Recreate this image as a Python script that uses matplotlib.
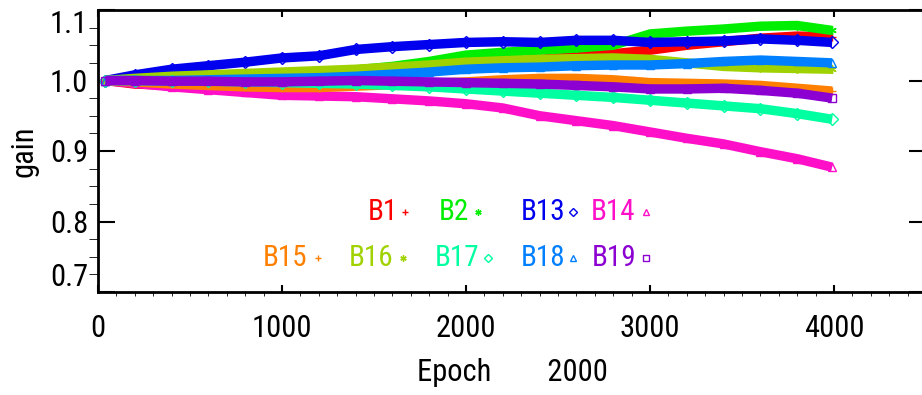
import matplotlib.pyplot as plt
from matplotlib.ticker import MultipleLocator

plt.rcParams['font.family'] = ['Roboto Condensed', 'DejaVu Sans']

# epochs and gain of each band
epoch = [40, 200, 400, 600, 800, 1000, 1200, 1400, 1600, 1800, 2000,
         2200, 2400, 2600, 2800, 3000, 3200, 3400, 3600, 3800, 3990]

b1 = [1.000, 0.995, 0.993, 0.994, 0.996, 0.998, 1.000, 1.005, 1.010, 1.015, 1.020,
      1.025, 1.030, 1.034, 1.038, 1.043, 1.050, 1.055, 1.060, 1.063, 1.062]
b2 = [1.000, 1.002, 1.004, 1.006, 1.008, 1.010, 1.012, 1.015, 1.020, 1.027, 1.036,
      1.040, 1.043, 1.046, 1.050, 1.066, 1.070, 1.073, 1.077, 1.078, 1.071]
b13 = [1.000, 1.008, 1.016, 1.021, 1.026, 1.032, 1.035, 1.044, 1.048, 1.051, 1.054,
       1.055, 1.054, 1.057, 1.057, 1.054, 1.055, 1.056, 1.059, 1.057, 1.054]
b14 = [1.000, 0.996, 0.991, 0.987, 0.983, 0.979, 0.978, 0.977, 0.974, 0.971, 0.967,
       0.961, 0.950, 0.943, 0.936, 0.927, 0.918, 0.910, 0.899, 0.889, 0.877]
b15 = [1.000, 0.998, 0.995, 0.993, 0.991, 0.990, 0.990, 0.992, 0.994, 0.996, 0.998,
       1.001, 1.003, 1.003, 1.001, 0.997, 0.996, 0.995, 0.993, 0.989, 0.985]
b16 = [1.000, 1.003, 1.006, 1.008, 1.010, 1.012, 1.014, 1.016, 1.019, 1.022, 1.026,
       1.028, 1.030, 1.031, 1.032, 1.030, 1.025, 1.020, 1.018, 1.017, 1.016]
b17 = [1.000, 1.000, 0.999, 0.999, 0.998, 0.997, 0.996, 0.995, 0.993, 0.991, 0.988,
       0.985, 0.982, 0.979, 0.976, 0.972, 0.968, 0.964, 0.960, 0.953, 0.945]
b18 = [1.000, 1.000, 1.000, 1.001, 1.002, 1.003, 1.004, 1.006, 1.009, 1.012, 1.016,
       1.018, 1.019, 1.021, 1.022, 1.022, 1.024, 1.027, 1.029, 1.027, 1.025]
b19 = [1.000, 1.000, 0.999, 0.999, 0.998, 0.998, 0.999, 1.000, 0.999, 0.998, 0.997,
       0.996, 0.995, 0.993, 0.991, 0.988, 0.988, 0.989, 0.986, 0.982, 0.975]

names = ['B1', 'B2', 'B13', 'B14', 'B15', 'B16', 'B17', 'B18', 'B19']
series = [b1, b2, b13, b14, b15, b16, b17, b18, b19]
colors = ['#ff0000', '#00ee00', '#0000ee', '#ff10c8', '#ff8000',
          '#a0d200', '#00ffa0', '#0080ff', '#8c00d2']
asterisk = (6, 2, 0)
markers = ['+', asterisk, 'D', '^', '+', asterisk, 'D', '^', 's']

# legend layout in axes fraction: (text x, marker x, y)
leg_pos = [(0.344, 0.371, 0.284), (0.430, 0.459, 0.284), (0.537, 0.574, 0.284),
           (0.622, 0.662, 0.284), (0.226, 0.266, 0.121), (0.330, 0.368, 0.121),
           (0.434, 0.471, 0.121), (0.537, 0.574, 0.121), (0.623, 0.662, 0.121)]

fig = plt.figure(figsize=(9.22, 3.95), dpi=100)
ax = fig.add_axes([98 / 922, 103 / 395, 828 / 922, 282 / 395])

for vals, c, m in zip(series, colors, markers):
    ax.plot(epoch, vals, color=c, lw=6.8, solid_capstyle='butt', zorder=2)
    ax.plot(epoch, vals, ls='none', marker=m, ms=6, mfc='none', mec=c, mew=1, zorder=2)

for name, c, m, (tx, mx, ty) in zip(names, colors, markers, leg_pos):
    ax.text(tx, ty, name, color=c, fontsize=21, ha='center', va='center',
            transform=ax.transAxes)
    ax.plot([mx], [ty], ls='none', marker=m, ms=4.5, mfc='none', mec=c, mew=1,
            transform=ax.transAxes)

ax.set_xlim(0, 4500)
ax.set_ylim(0.7, 1.1)
ax.xaxis.set_major_locator(MultipleLocator(1000))
ax.xaxis.set_minor_locator(MultipleLocator(100))
yt = [0.7, 0.8, 0.9, 1.0, 1.1]
ax.set_yticks(yt, labels=['%.1f' % v for v in yt])
ax.yaxis.set_minor_locator(MultipleLocator(0.025))

for s in ax.spines.values():
    s.set_linewidth(2)
ax.tick_params(direction='in', top=True, right=True, width=1.5, colors='black')
ax.tick_params(axis='x', which='major', length=5, pad=16, labelsize=22)
ax.tick_params(axis='x', which='minor', length=3)
ax.tick_params(axis='y', which='major', length=12, pad=7, labelsize=22)
ax.tick_params(axis='y', which='minor', length=6.5)

for lbl, v in zip(ax.get_yticklabels(), yt):
    if v == 1.1:
        lbl.set_va('top')
    elif v == 0.7:
        lbl.set_va('bottom')

ax.set_xlabel('Epoch        2000', fontsize=22)
ax.xaxis.set_label_coords(0.5, -0.235)
ax.xaxis.label.set_va('top')
ax.set_ylabel('gain', fontsize=22)
ax.yaxis.set_label_coords(-0.072, 0.5)

fig.savefig('out.png', dpi=100)
